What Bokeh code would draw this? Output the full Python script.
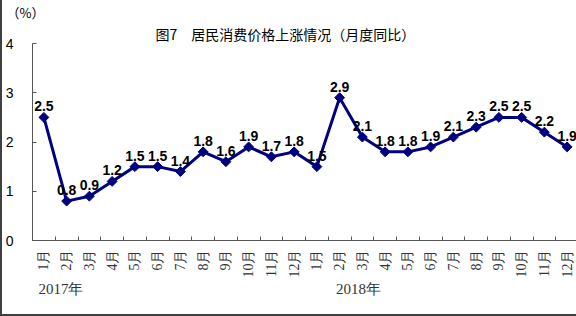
import math
from bokeh.plotting import figure
from bokeh.models import ColumnDataSource, FixedTicker, LinearAxis, Range1d, Title
from bokeh.core.properties import value
from bokeh.embed import file_html
from bokeh.resources import INLINE

# ---- data ----
months = ["1月", "2月", "3月", "4月", "5月", "6月", "7月", "8月", "9月", "10月", "11月", "12月"]
years = ["2017年", "2018年"]
cpi_2017 = [2.5, 0.8, 0.9, 1.2, 1.5, 1.5, 1.4, 1.8, 1.6, 1.9, 1.7, 1.8]
cpi_2018 = [1.5, 2.9, 2.1, 1.8, 1.8, 1.9, 2.1, 2.3, 2.5, 2.5, 2.2, 1.9]
y_ticks = [0, 1, 2, 3, 4]
title_text = "图7　居民消费价格上涨情况（月度同比）"
unit_text = "（%）"

labels = months + months
values = cpi_2017 + cpi_2018
n = len(values)
xs = [i + 0.5 for i in range(n)]

src = ColumnDataSource(dict(x=xs, y=values, t=["%.1f" % v for v in values]))

SERIF = "Liberation Serif"
SANS = "Liberation Sans"
CJK = "Noto Sans CJK SC"

p = figure(width=576, height=316, output_backend="svg", toolbar_location=None,
           x_range=Range1d(0, n), y_range=Range1d(0, 4),
           min_border_left=30, min_border_right=0, min_border_top=40, min_border_bottom=76)
p.outline_line_color = None
p.xgrid.visible = False
p.ygrid.visible = False
p.background_fill_color = "white"
p.border_fill_color = "white"

# titles: main title nearest the frame, unit text above it at the far left
main_title = Title(text=title_text, align="left", offset=123, standoff=0,
                   text_font=CJK, text_font_size="14px", text_font_style="normal",
                   text_color="black")
unit_title = Title(text=unit_text, align="left", offset=-26, standoff=0,
                   text_font=CJK, text_font_size="13px", text_font_style="normal",
                   text_color="black")
p.title = None
p.above = [main_title, unit_title]

# y axis
p.yaxis.ticker = FixedTicker(ticks=y_ticks)
p.yaxis.axis_line_color = "#555555"
p.yaxis.major_tick_line_color = "#555555"
p.yaxis.major_tick_in = 4
p.yaxis.major_tick_out = 0
p.yaxis.minor_tick_line_color = None
p.yaxis.major_label_standoff = 19
p.yaxis.major_label_text_font = SANS
p.yaxis.major_label_text_font_size = "14px"
p.yaxis.major_label_text_color = "black"

# x axis: labels at centers, ticks at boundaries (minor ticks)
p.xaxis.ticker = FixedTicker(ticks=xs, minor_ticks=list(range(n + 1)))
p.xaxis.major_label_overrides = {x: l for x, l in zip(xs, labels)}
p.xaxis.major_tick_in = 0
p.xaxis.major_tick_out = 0
p.xaxis.minor_tick_in = 4
p.xaxis.minor_tick_out = 0
p.xaxis.minor_tick_line_color = "#555555"
p.xaxis.axis_line_color = "#555555"
p.xaxis.major_label_orientation = math.pi / 2
p.xaxis.major_label_standoff = 9
p.xaxis.major_label_text_font = SERIF
p.xaxis.major_label_text_font_size = "14px"
p.xaxis.major_label_text_color = "#333333"

# year labels as a second, line-less axis below the month axis
year_pos = [1.25, 14.33]
year_axis = LinearAxis(ticker=FixedTicker(ticks=year_pos),
                       major_label_overrides={x: l for x, l in zip(year_pos, years)},
                       axis_line_color=None, major_tick_line_color=None,
                       minor_tick_line_color=None, major_label_standoff=0,
                       major_tick_in=0, major_tick_out=0,
                       major_label_text_font=SERIF, major_label_text_font_size="15px",
                       major_label_text_color="#333333")
p.add_layout(year_axis, "below")

# line + markers
p.line("x", "y", source=src, line_color="#000080", line_width=3)
p.scatter("x", "y", source=src, marker="square", angle=math.pi / 4, size=7,
          fill_color="#000080", line_color="#000080")
p.text("x", "y", text="t", source=src, text_align="center", text_baseline="bottom",
       y_offset=-6, text_font=value(SANS), text_font_style="bold",
       text_font_size="14px", text_color="black")

p.styles = {"border-left": "2px solid #404040", "border-bottom": "2px solid #404040",
            "box-sizing": "border-box"}

open("out.html", "w").write(file_html(p, INLINE))
